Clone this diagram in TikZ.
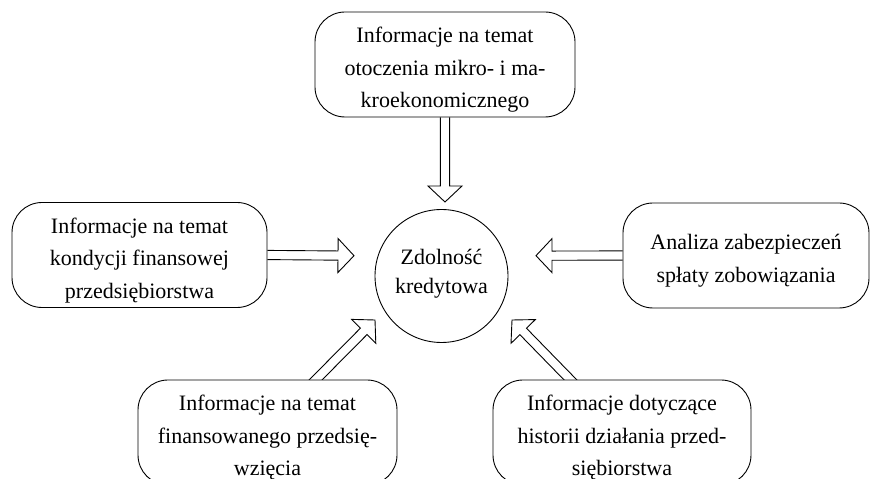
\documentclass[tikz,border=0pt]{standalone}
\usepackage{fontspec}
\setmainfont{Liberation Serif}
\usetikzlibrary{calc,backgrounds}
\newcommand\dblarrow[2]{%
  \coordinate (dabase) at ($(#2)!16pt!(#1)$);
  \draw[arrline] ($(#1)!4.6pt!90:(#2)$) -- ($(dabase)!4.6pt!90:(#2)$)
    -- ($(dabase)!17pt!90:(#2)$) -- (#2) -- ($(dabase)!17pt!-90:(#2)$)
    -- ($(dabase)!4.6pt!-90:(#2)$) -- ($(#1)!4.6pt!-90:(#2)$);
}
\newcommand\firststrut{\rule{0pt}{26pt}}
\begin{document}
\begin{tikzpicture}[x=1pt,y=1pt,
  box/.style={draw, line width=0.9pt, rounded corners=30pt, fill=white,
    align=center, inner sep=0pt, minimum height=105pt,
    font=\fontsize{22}{32.5}\selectfont},
  hub/.style={draw, circle, line width=0.9pt, fill=white, align=center,
    inner sep=0pt, minimum size=133pt, font=\fontsize{22}{29}\selectfont},
  arrline/.style={draw, line width=0.9pt, line join=miter}]
\useasboundingbox (0,0) rectangle (871,479);
\clip (0,0) rectangle (871,479);
\node[box, minimum width=260pt] (top) at (445,414.5)
  {\firststrut Informacje na temat\\otoczenia mikro- i ma-\\kroekonomicznego};
\node[box, minimum width=255pt] (left) at (139.5,224)
  {\firststrut Informacje na temat\\kondycji finansowej\\przedsiębiorstwa};
\node[box, minimum width=246pt] (right) at (746,223.5)
  {\firststrut Analiza zabezpieczeń\\spłaty zobowiązania};
\node[hub] (hub) at (441.5,203) {Zdolność\\kredytowa\rule[-9pt]{0pt}{9pt}};
\node[box, minimum width=259pt] (bl) at (267.5,46.5)
  {\firststrut Informacje na temat\\finansowanego przedsię-\\wzięcia};
\node[box, minimum width=258pt] (br) at (622,46.5)
  {\firststrut Informacje dotyczące\\historii działania przed-\\siębiorstwa};
\coordinate (toptip) at (445,277);
\coordinate (lefttip) at (354,223.3);
\coordinate (righttip) at (536,223.3);
\coordinate (bltip) at (375,159);
\coordinate (brtip) at (512,159);
\coordinate (blstart) at ($(bl.north)+(43.5,-5)$);
\coordinate (brstart) at ($(br.north)+(-47,-5)$);
\begin{pgfonlayer}{background}
  \dblarrow{top.south}{toptip}
  \dblarrow{left.east}{lefttip}
  \dblarrow{right.west}{righttip}
  \dblarrow{blstart}{bltip}
  \dblarrow{brstart}{brtip}
\end{pgfonlayer}
\end{tikzpicture}
\end{document}
